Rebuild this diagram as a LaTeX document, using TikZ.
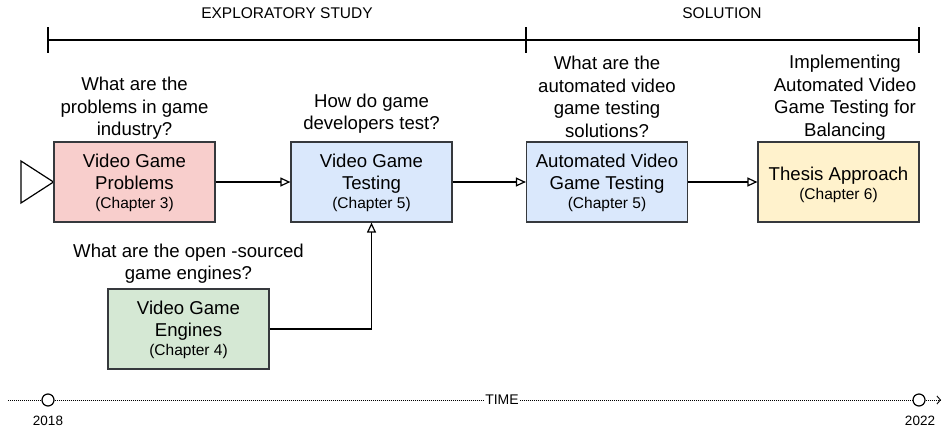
\documentclass[tikz,border=0pt]{standalone}
\usepackage{fontspec}
\setmainfont{Liberation Sans}
\usetikzlibrary{arrows.meta}

\definecolor{boxline}{HTML}{36393D}
\definecolor{redfill}{HTML}{F8CECC}
\definecolor{bluefill}{HTML}{DAE8FC}
\definecolor{greenfill}{HTML}{D5E8D4}
\definecolor{yellowfill}{HTML}{FFF2CC}

\newcommand{\mainsz}{\fontsize{18.6pt}{22.4pt}\selectfont}
\newcommand{\chapsz}{\fontsize{15.5pt}{18.6pt}\selectfont}
\newcommand{\phasesz}{\fontsize{15.5pt}{18.6pt}\selectfont}
\newcommand{\timesz}{\fontsize{13.5pt}{16pt}\selectfont}

\begin{document}
\begin{tikzpicture}[x=1pt,y=-1pt,
  chapbox/.style={draw=boxline, line width=1.2pt, minimum width=161pt,
    minimum height=80pt, inner sep=0pt, align=center, font=\mainsz,
    text height=66.5pt, text depth=13.5pt},
  shortbox/.style={chapbox, text height=57pt, text depth=23pt},
  question/.style={align=center, font=\mainsz, inner sep=0pt, anchor=base},
  phase/.style={font=\phasesz, inner sep=0pt},
  flow/.style={line width=1.2pt, -{Triangle[open, length=10pt, width=9pt, line width=1.2pt]}},
  bracket/.style={line width=1.2pt},
  timeline/.style={line width=0.8pt, dash pattern=on 1pt off 1pt},
  milestone/.style={circle, draw, fill=white, line width=1.2pt, minimum size=12pt, inner sep=0pt},
  year/.style={font=\timesz, inner sep=0pt},
]
\useasboundingbox (0,0) rectangle (944,431);

% phase brackets
\coordinate (p0) at (48,40);
\coordinate (p1) at (526,40);
\coordinate (p2) at (919,40);
\draw[bracket] (p0) -- (p2);
\foreach \p in {p0,p1,p2} \draw[bracket] (\p) ++(0,-13) -- ++(0,26);
\node[phase] (explore) at (287,13) {EXPLORATORY STUDY};
\node[phase] (solution) at (722,13) {SOLUTION};

% start marker
\coordinate (s1) at (21,161);
\coordinate (s2) at (21,203);
\coordinate (s3) at (53.5,182);
\draw[line width=1.2pt, fill=white] (s1) -- (s3) -- (s2) -- cycle;

% chapter boxes
\node[chapbox, fill=redfill] (problems) at (134.5,182)
  {Video Game\\Problems\\[-3.6pt]{\chapsz (Chapter 3)}};
\node[chapbox, fill=bluefill] (testing) at (371.5,182)
  {Video Game\\Testing\\[-3.6pt]{\chapsz (Chapter 5)}};
\node[chapbox, fill=bluefill] (automated) at (607,182)
  {Automated Video\\Game Testing\\[-3.6pt]{\chapsz (Chapter 5)}};
\node[shortbox, fill=yellowfill] (thesis) at (838.5,182)
  {Thesis Approach\\[-3.6pt]{\chapsz (Chapter 6)}};
\node[chapbox, fill=greenfill] (engines) at (188.5,329)
  {Video Game\\Engines\\[-3.6pt]{\chapsz (Chapter 4)}};

% research questions (anchored at the baseline of their last line)
\node[question] (q1) at (134.5,135.5) {What are the\\problems in game\\industry?};
\node[question] (q2) at (371.5,129.5) {How do game\\developers test?};
\node[question] (q3) at (607,137) {What are the\\automated video\\game testing\\solutions?};
\node[question] (q4) at (845,136) {Implementing\\Automated Video\\Game Testing for\\Balancing};
\node[question] (q5) at (188.5,279.5) {What are the open -sourced\\game engines?};

% flow
\draw[flow] (problems) -- (testing);
\draw[flow] (testing) -- (automated);
\draw[flow] (automated) -- (thesis);
\draw[flow] (engines.east) -| (testing.south);

% time axis
\coordinate (t0) at (8,400);
\coordinate (t1) at (941,400);
\node[milestone] (m18) at (48,400) {};
\node[milestone] (m22) at (919,400) {};
\node[fill=white, inner sep=1pt, font=\fontsize{14pt}{16pt}\selectfont] (time) at (502,400) {TIME};
\draw[timeline] (t0) -- (m18);
\draw[timeline] (m18) -- (time);
\draw[timeline] (time) -- (m22);
\draw[timeline, -{Straight Barb[length=3.5pt, width=8pt, line width=0.9pt]}] (m22) -- (t1);
\node[year] (y18) at (48,421) {2018};
\node[year] (y22) at (920,421) {2022};
\end{tikzpicture}
\end{document}
